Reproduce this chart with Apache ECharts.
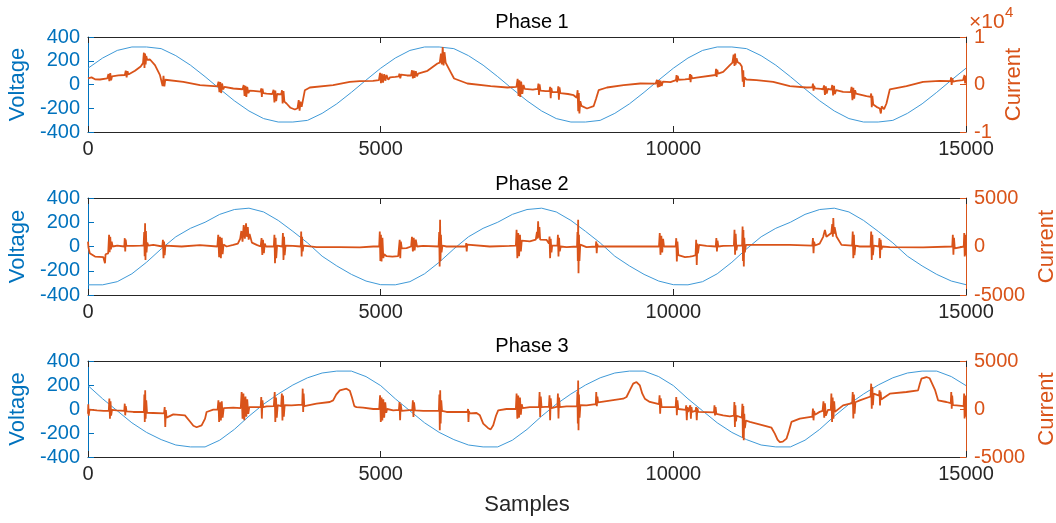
<!DOCTYPE html>
<html>
<head>
<meta charset="utf-8">
<title>Phase voltage and current</title>
<script src="https://cdn.jsdelivr.net/npm/echarts@6/dist/echarts.min.js"></script>
<style>
  html, body { margin: 0; padding: 0; background: #fff; }
  #chart { width: 1056px; height: 523px; }
</style>
</head>
<body>
<div id="chart"></div>
<script>
const BLUE = "#0072BD";
const ORANGE = "#D95319";
const DARK = "#262626";
const FONT = "'Liberation Sans', Arial, Helvetica, sans-serif";

const titles = ["Phase 1", "Phase 2", "Phase 3"];

// voltage is read every 250 samples
const voltX = [
  0, 250, 500, 750, 1000, 1250, 1500, 1750, 2000, 2250, 2500, 2750, 3000, 3250, 3500, 3750, 4000, 4250, 4500, 4750,
  5000, 5250, 5500, 5750, 6000, 6250, 6500, 6750, 7000, 7250, 7500, 7750, 8000, 8250, 8500, 8750, 9000, 9250, 9500, 9750,
  10000, 10250, 10500, 10750, 11000, 11250, 11500, 11750, 12000, 12250, 12500, 12750, 13000, 13250, 13500, 13750, 14000, 14250, 14500, 14750,
  15000,
];

const volt1 = [
  137, 223, 287, 316, 316, 302, 243, 163, 66, -37, -137, -223, -287, -316, -316, -302, -243, -163, -66, 37,
  137, 223, 287, 316, 316, 302, 243, 163, 66, -37, -137, -223, -287, -316, -316, -302, -243, -163, -66, 37,
  137, 223, 287, 316, 316, 302, 243, 163, 66, -37, -137, -223, -287, -316, -316, -302, -243, -163, -66, 37,
  137,
];

const volt2 = [
  -316, -316, -290, -225, -130, -20, 80, 150, 200, 265, 305, 316, 285, 215, 125, 30, -80, -160, -230, -285,
  -315, -316, -290, -225, -130, -20, 80, 150, 200, 265, 305, 316, 285, 215, 125, 30, -80, -160, -230, -285,
  -315, -316, -290, -225, -130, -20, 80, 150, 200, 265, 305, 316, 285, 215, 125, 30, -80, -160, -230, -285,
  -315,
];

const volt3 = [
  195, 85, -15, -115, -195, -255, -300, -316, -316, -260, -170, -60, 40, 125, 200, 260, 300, 316, 316, 270,
  195, 85, -15, -115, -195, -255, -300, -316, -316, -260, -170, -60, 40, 125, 200, 260, 300, 316, 316, 270,
  195, 85, -15, -115, -195, -255, -300, -316, -316, -260, -170, -60, 40, 125, 200, 260, 300, 316, 316, 270,
  195,
];

// current, [sample, value] pairs
const curr1 = [
  [0, 1300], [60, 1500], [120, 1100], [205, 1050],
  [330, 1300], [350, 2200], [365, 700], [380, 2400], [395, 900], [410, 1700],
  [520, 1900],
  [630, 2000], [645, 2900], [660, 1500], [675, 2800], [690, 2100],
  [803, 2900], [900, 3800],
  [940, 4500], [955, 6700], [965, 3500], [975, 6500], [985, 4200], [995, 6000], [1010, 5200],
  [1059, 5265], [1144, 4070], [1230, 1966],
  [1260, 1600], [1275, -300], [1290, 1800], [1305, -400], [1320, 1000],
  [1343, 1050], [1628, 560], [1913, -140],
  [2210, -400], [2230, 600], [2245, -1600], [2260, 500], [2275, -1800], [2290, 200], [2310, -1000], [2330, -500],
  [2482, -840],
  [2640, -1000], [2660, -100], [2675, -2400], [2690, -300], [2705, -2600], [2720, -500], [2740, -1800], [2760, -1300],
  [2824, -1330],
  [2950, -1500], [2960, -800], [2970, -2600], [2980, -900], [2995, -1800],
  [3050, -1900],
  [3150, -2000], [3170, -1100], [3185, -3800], [3200, -1300], [3215, -3500], [3230, -2000],
  [3300, -2100], [3315, -1200], [3325, -4000], [3340, -1400], [3355, -3600],
  [3392, -4000], [3460, -4900], [3534, -5260],
  [3580, -5000], [3600, -3300], [3615, -5500], [3630, -3600], [3650, -4700],
  [3705, -1200], [3790, -630], [4188, -140], [4473, 560], [4643, 700],
  [4868, 770],
  [4970, 900], [4990, 2450], [5005, 300], [5020, 2300], [5040, 400], [5060, 2200], [5080, 800], [5100, 2000], [5130, 1000], [5160, 1500],
  [5250, 1600],
  [5310, 1700], [5320, 2300], [5335, 1300], [5350, 2100], [5365, 1800],
  [5450, 1900],
  [5520, 1900], [5535, 3000], [5550, 1300], [5565, 2900], [5580, 1400], [5600, 2800], [5620, 1700], [5640, 2300],
  [5800, 2880], [5970, 4420],
  [6010, 4600], [6030, 6500], [6045, 4200], [6060, 7900], [6075, 4000], [6090, 6800], [6110, 4600],
  [6140, 4420], [6200, 2500], [6254, 1260], [6481, 210], [6879, -350], [7164, -630],
  [7320, -500], [7340, 1200], [7355, -2400], [7370, 900], [7385, -2600], [7400, 600], [7420, -2000], [7440, -100], [7460, -900],
  [7600, -1100],
  [7685, -900], [7695, 200], [7705, -2200], [7715, 0], [7730, -1300],
  [7820, -1400],
  [7885, -1400], [7895, -500], [7905, -2900], [7915, -700], [7930, -1600],
  [8025, -1600], [8035, -400], [8045, -3200], [8055, -600], [8070, -1800],
  [8200, -2000], [8297, -2250],
  [8350, -2800], [8365, -1200], [8375, -5600], [8385, -1800], [8395, -6100], [8410, -3500], [8430, -4500],
  [8525, -5050], [8638, -4560], [8680, -3000], [8724, -1200], [8866, -630], [9150, -140], [9435, 210],
  [9700, 200], [9720, 1000], [9735, -600], [9750, 900], [9765, -500], [9780, 800], [9800, -300], [9820, 600], [9840, 200],
  [9950, 500],
  [10045, 900], [10055, 2000], [10065, 500], [10075, 1800], [10090, 1000],
  [10200, 1100],
  [10275, 1200], [10285, 2200], [10295, 500], [10305, 2000], [10320, 1300],
  [10396, 1470],
  [10720, 2000], [10730, 3300], [10740, 1600], [10750, 3100], [10765, 2300],
  [10852, 2670], [10966, 4070],
  [11010, 4600], [11030, 6300], [11045, 3900], [11055, 6500], [11065, 4200], [11080, 5500], [11100, 4700],
  [11137, 4420],
  [11170, 3800], [11185, 600], [11195, 3000], [11205, -500], [11215, 1500],
  [11250, 1050], [11421, 910], [11706, 560], [11990, -350], [12275, -630],
  [12375, -600], [12385, 200], [12395, -1300], [12405, -300], [12420, -800],
  [12520, -900],
  [12560, -1000], [12575, -200], [12590, -2200], [12605, -400], [12620, -1900], [12640, -900],
  [12700, -1100], [12715, -100], [12730, -2300], [12745, -300], [12760, -2000], [12780, -1200],
  [12901, -1540],
  [13030, -1600], [13045, -500], [13060, -3300], [13075, -700], [13090, -3000], [13105, -1200], [13120, -1900],
  [13300, -2460],
  [13370, -2600], [13380, -1900], [13390, -4800], [13400, -2400], [13415, -4200],
  [13470, -4700], [13527, -5050], [13545, -6100], [13560, -4600], [13600, -5200], [13641, -4000], [13698, -1050],
  [13983, -350], [14267, 560], [14552, 770],
  [14735, 700], [14745, 1500], [14755, -100], [14765, 1300], [14780, 600],
  [14837, 770], [14950, 900],
  [14965, 800], [14975, 2000], [14985, 200], [14995, 1800], [15000, 1000],
];

const curr2 = [
  [0, 500], [8, -100], [30, -690], [120, -1035], [262, -1100], [280, -900], [290, -1725], [300, -800], [318, -860],
  [345, -700], [360, 1200], [370, -600], [380, 1000], [392, -300], [405, 500], [420, 0],
  [500, 100],
  [620, 0], [628, 860], [636, -500], [644, 700], [655, 100],
  [774, 70], [900, 80],
  [950, 100], [960, 1500], [968, -1000], [975, 2400], [982, -1380], [990, 1600], [1000, -600], [1012, 400], [1030, 100],
  [1116, 170],
  [1270, 0], [1280, 690], [1290, -1200], [1300, 500], [1310, -900], [1322, 100],
  [1343, 70], [1600, 0], [1912, 140],
  [2210, 0], [2225, 1200], [2240, -1100], [2255, 1000], [2270, -1200], [2285, 900], [2300, -800], [2315, 200],
  [2368, 0], [2482, 170],
  [2560, 300], [2600, 800], [2620, 1600], [2640, 500], [2660, 2200], [2680, 800], [2700, 2400], [2715, 1000], [2730, 2000], [2745, 700], [2760, 1300], [2800, 400], [2881, 170],
  [2950, 0], [2965, 860], [2978, -860], [2990, 700], [3005, -700], [3020, 300], [3040, 0],
  [3175, 0], [3185, 1200], [3195, -1725], [3205, 900], [3215, -1200], [3230, 100],
  [3320, 0], [3330, 1380], [3340, -1380], [3350, 1000], [3360, -900], [3375, 100],
  [3500, 70],
  [3635, 0], [3642, 1550], [3650, -1035], [3658, 1000], [3668, -500], [3680, 100],
  [3904, -70], [4300, -70], [4643, -100], [4873, 0],
  [4975, 0], [4985, 1550], [4995, -1500], [5005, 1200], [5015, -1550], [5030, 900], [5045, -1200],
  [5060, -800], [5101, -1000], [5200, -1050], [5300, -1000],
  [5315, -900], [5325, 690], [5335, -1200], [5345, 500], [5360, -200],
  [5442, -170],
  [5520, 0], [5535, 1000], [5550, -500], [5565, 900], [5580, -400], [5600, 700], [5620, 0],
  [5727, 70],
  [5990, 0], [6000, 1500], [6008, -2070], [6015, 2760], [6022, -1500], [6030, 1200], [6040, -600], [6055, 100],
  [6124, 0],
  [6455, 0], [6462, 345], [6470, -520], [6478, 200], [6490, 0],
  [6865, 0], [7200, 70],
  [7310, 100], [7322, 1725], [7335, -1200], [7350, 1400], [7365, -1000], [7380, 1200], [7395, -500], [7410, 600],
  [7548, 520],
  [7650, 700], [7670, 1500], [7680, 800], [7690, 2590], [7700, 900], [7712, 2000], [7725, 700],
  [7833, 690],
  [7875, 300], [7885, 1035], [7895, -1200], [7905, 800], [7918, -600], [7930, 100],
  [8020, 100], [8028, 1200], [8038, -1035], [8048, 900], [8060, -500], [8075, 0],
  [8175, -70],
  [8355, 0], [8362, 1500], [8368, -1500], [8374, 2760], [8380, -2760], [8388, 1200], [8396, -1500], [8410, 200],
  [8516, -70],
  [8675, 0], [8683, 520], [8691, -690], [8700, 300], [8712, 0],
  [8858, 0], [9428, 0],
  [9755, 0], [9768, 1380], [9780, -860], [9795, 1100], [9810, -600], [9825, 800], [9840, 0],
  [10040, 0], [10050, 860], [10060, -1550], [10070, 500], [10085, -900],
  [10111, -1000], [10200, -1100], [10282, -1050], [10330, -1000], [10380, -900],
  [10390, 690], [10400, -1900], [10410, 300], [10420, -700],
  [10440, 170], [10567, 70],
  [10725, 0], [10735, 860], [10745, -520], [10755, 600], [10768, 0],
  [10852, 70],
  [11035, 100], [11045, 1725], [11055, -860], [11065, 1300], [11078, -400], [11090, 100],
  [11175, 100], [11183, 2070], [11190, -1500], [11197, 1700], [11204, -2070], [11212, 900], [11222, -600], [11240, 170],
  [11421, 170], [11990, 170],
  [12375, 100], [12385, 860], [12395, -690], [12405, 500], [12420, 100],
  [12500, 300], [12560, 1000], [12590, 1700], [12615, 1000], [12645, 1200],
  [12700, 1400], [12715, 2300], [12725, 1000], [12733, 2930], [12742, 1300], [12755, 2000],
  [12787, 1035], [12873, 170],
  [13055, 100], [13065, 1550], [13075, -1200], [13085, 1200], [13095, -900], [13110, 100],
  [13185, 0],
  [13370, 0], [13380, 1550], [13390, -1380], [13400, 1200], [13410, -900], [13425, 100],
  [13512, 0], [13522, 860], [13532, -1200], [13542, 700], [13555, -300], [13570, 0],
  [13698, -70], [14267, -100],
  [14765, 0], [14775, 1200], [14785, -860], [14795, 900], [14808, -200],
  [14837, -70],
  [14962, 0], [14970, 1380], [14978, -1035], [14986, 1200], [14994, -900], [15000, 300],
];

const curr3 = [
  [0, -500], [5, 500], [12, -700], [25, -70], [153, -140], [268, -200],
  [355, -200], [365, 1080], [375, -1000], [385, 800], [395, -700], [410, -100],
  [490, -140],
  [620, -200], [628, 555], [636, -660], [645, 300], [658, -250],
  [774, -310],
  [955, -300], [963, 1500], [970, -1350], [977, 1940], [985, -1000], [995, 900], [1008, -400],
  [1116, -415],
  [1300, -450], [1310, 200], [1320, -1870], [1330, -100], [1342, -900],
  [1457, -555], [1656, -660], [1742, -1300], [1800, -1750], [1856, -1900], [1941, -1700], [2000, -1000], [2026, -310], [2140, -70],
  [2215, -50], [2228, 900], [2240, -1350], [2255, 700], [2270, -1200], [2285, 800], [2300, -900], [2318, 100],
  [2482, 140],
  [2610, 100], [2625, 1770], [2640, -1000], [2655, 1600], [2670, -1180], [2690, 1300], [2705, -800], [2720, 1000], [2738, -500], [2755, 200],
  [2824, 200],
  [2950, 200], [2960, 1250], [2970, -1000], [2980, 900], [2993, 200],
  [3050, 280],
  [3175, 300], [3190, 1770], [3200, -1350], [3212, 1200], [3225, -900], [3240, 400],
  [3300, 300], [3312, 1600], [3322, -1200], [3332, 1400], [3345, -800], [3360, 400],
  [3477, 380],
  [3660, 450], [3668, 2120], [3676, -310], [3684, 1600], [3695, 300], [3710, 500],
  [3904, 555], [4131, 730], [4188, 900], [4240, 1500], [4302, 1940], [4416, 2120], [4473, 1900], [4510, 1200], [4550, 300], [4586, 200], [4700, 150], [4873, 0],
  [4975, 0], [4990, 1420], [5002, -1350], [5015, 1200], [5028, -1200], [5045, 1000], [5060, -900], [5078, 700], [5095, -400], [5110, 0],
  [5215, -140],
  [5312, -100], [5322, 730], [5332, -1180], [5342, 500], [5358, -200],
  [5540, -100], [5550, 900], [5560, -830], [5570, 700], [5585, -150],
  [5727, -200],
  [5995, -200], [6003, 1500], [6010, -2220], [6017, 1940], [6025, -1500], [6035, 900], [6048, -200],
  [6126, -310],
  [6485, -300], [6493, 0], [6500, -1350], [6508, -200], [6520, -450],
  [6638, -415], [6695, -660], [6752, -1530], [6837, -2000], [6880, -2120], [6923, -1700], [6970, -700], [7008, -140], [7150, 0],
  [7310, 0], [7322, 1600], [7335, -1000], [7350, 1400], [7365, -900], [7380, 1200], [7395, -600], [7410, 500], [7425, 100],
  [7549, 200],
  [7705, 200], [7715, 1770], [7725, -830], [7735, 1300], [7748, 200],
  [7875, 250], [7885, 1420], [7895, -1180], [7905, 1100], [7918, 100],
  [8020, 250], [8028, 1600], [8038, -1000], [8048, 1200], [8060, 200],
  [8175, 280],
  [8355, 300], [8362, 1800], [8368, -1500], [8374, 2980], [8380, -2220], [8388, 1500], [8398, -900], [8412, 400],
  [8517, 380],
  [8675, 500], [8683, 1770], [8693, 300], [8703, 1300], [8715, 700],
  [8858, 830], [9143, 1075], [9200, 1250], [9260, 2000], [9314, 2640], [9371, 2810], [9428, 2460], [9470, 1600], [9513, 1075], [9598, 730],
  [9755, 500], [9765, 1420], [9775, -490], [9785, 1100], [9800, 200],
  [9900, 200],
  [10040, 200], [10050, 1250], [10060, -660], [10070, 900], [10085, 0],
  [10210, -100], [10220, 380], [10230, -1180], [10240, 200], [10255, -300],
  [10282, -140], [10290, 380], [10300, -1000], [10310, 200], [10320, -300],
  [10380, -200], [10390, 200], [10400, -1180], [10410, 100], [10425, -300],
  [10453, -310],
  [10695, -350], [10703, 380], [10712, -660], [10722, 200], [10735, -500],
  [10851, -660], [10965, -760],
  [11035, -700], [11043, 730], [11052, -1870], [11060, 400], [11070, -1300], [11082, -700],
  [11170, -900], [11180, 555], [11188, -3000], [11196, 300], [11203, -3260], [11212, -500], [11222, -2000], [11240, -1200],
  [11307, -1350], [11534, -1700], [11677, -1950], [11734, -2570], [11780, -3200], [11819, -3440], [11870, -3400], [11933, -3090], [11975, -2300], [12018, -1350], [12161, -1000],
  [12375, -800], [12385, 35], [12395, -1180], [12405, -200], [12420, -600],
  [12500, -300],
  [12550, -200], [12565, 800], [12578, -900], [12590, 600], [12605, -700], [12640, -100],
  [12690, -100], [12700, 1600], [12712, -1350], [12722, 1200], [12735, -1000], [12748, 800], [12760, -300],
  [12900, 380],
  [13055, 600], [13065, 1770], [13075, -1000], [13085, 1500], [13097, -500], [13110, 700],
  [13185, 900],
  [13370, 1300], [13380, 2640], [13390, 35], [13400, 2300], [13410, 400], [13422, 1600],
  [13515, 1400], [13523, 1940], [13531, 380], [13540, 1800], [13552, 1000],
  [13698, 1600], [13982, 1770], [14181, 1940], [14210, 2600], [14238, 3160], [14324, 3330], [14380, 3200], [14410, 3050], [14470, 2000], [14523, 900], [14665, 730],
  [14740, 600], [14748, 1770], [14756, 35], [14764, 1400], [14776, 400],
  [14837, 380],
  [14960, 300], [14968, 1600], [14976, -1000], [14984, 1400], [14992, -800], [15000, 200],
];

const voltages = [volt1, volt2, volt3];
const currents = [curr1, curr2, curr3];
const currentMax = [10000, 5000, 5000];

// plot boxes, in pixels
const gridTops = [37, 198, 361];
const gridHeights = [95, 97, 96];
const titleTops = [7, 169, 331];
const currentNameGaps = [36, 70, 70];

const chart = echarts.init(document.querySelector("#chart"), null, { renderer: "canvas" });

const grids = [];
const xAxes = [];
const yAxes = [];
const series = [];
const titleList = [];

gridTops.forEach((top, i) => {
  grids.push({
    left: 88,
    width: 878,
    top,
    height: gridHeights[i],
    containLabel: false,
    outerBoundsMode: "none",
  });

  titleList.push({
    text: titles[i],
    left: 527,
    top: titleTops[i],
    textAlign: "center",
    textStyle: { fontFamily: FONT, fontSize: 20, fontWeight: "normal", color: "#000" },
  });

  xAxes.push({
    type: "value",
    gridIndex: i,
    position: "bottom",
    min: 0,
    max: 15000,
    interval: 5000,
    name: i === 2 ? "Samples" : "",
    nameLocation: "middle",
    nameGap: 37,
    nameTextStyle: { fontFamily: FONT, fontSize: 22, color: DARK },
    axisLine: { onZero: false, lineStyle: { color: DARK, width: 1 } },
    axisTick: { inside: true, length: 6, lineStyle: { color: DARK } },
    axisLabel: { fontFamily: FONT, fontSize: 20, color: DARK, margin: 7, formatter: (v) => String(v) },
    splitLine: { show: false },
  });
  // top edge of the box
  xAxes.push({
    type: "value",
    gridIndex: i,
    position: "top",
    min: 0,
    max: 15000,
    interval: 5000,
    axisLine: { onZero: false, lineStyle: { color: DARK, width: 1 } },
    axisTick: { inside: true, length: 6, lineStyle: { color: DARK } },
    axisLabel: { show: false },
    splitLine: { show: false },
  });

  yAxes.push({
    type: "value",
    gridIndex: i,
    position: "left",
    min: -400,
    max: 400,
    interval: 200,
    name: "Voltage",
    nameLocation: "middle",
    nameRotate: 90,
    nameGap: 46,
    nameTextStyle: { fontFamily: FONT, fontSize: 22, color: BLUE },
    axisLine: { show: true, onZero: false, lineStyle: { color: BLUE, width: 1 } },
    axisTick: { show: true, inside: true, length: 6, lineStyle: { color: BLUE } },
    axisLabel: { fontFamily: FONT, fontSize: 20, color: BLUE, margin: 8 },
    splitLine: { show: false },
  });
  yAxes.push({
    type: "value",
    gridIndex: i,
    position: "right",
    min: -currentMax[i],
    max: currentMax[i],
    interval: currentMax[i],
    name: "Current",
    nameLocation: "middle",
    nameRotate: 90,
    nameGap: currentNameGaps[i],
    nameTextStyle: { fontFamily: FONT, fontSize: 22, color: ORANGE },
    axisLine: { show: true, onZero: false, lineStyle: { color: ORANGE, width: 1 } },
    axisTick: { show: true, inside: true, length: 6, lineStyle: { color: ORANGE } },
    axisLabel: {
      fontFamily: FONT,
      fontSize: 20,
      color: ORANGE,
      margin: 8,
      formatter: (v) => (i === 0 ? String(v / 10000) : String(v)),
    },
    splitLine: { show: false },
  });

  series.push({
    type: "line",
    xAxisIndex: i * 2,
    yAxisIndex: i * 2,
    data: voltX.map((x, k) => [x, voltages[i][k]]),
    showSymbol: false,
    lineStyle: { color: "#3f9ad8", width: 1 },
    z: 2,
  });
  series.push({
    type: "line",
    xAxisIndex: i * 2,
    yAxisIndex: i * 2 + 1,
    data: currents[i],
    showSymbol: false,
    lineStyle: { color: ORANGE, width: 1.8 },
    z: 3,
  });
});

chart.setOption({
  animation: false,
  backgroundColor: "#fff",
  title: titleList,
  grid: grids,
  xAxis: xAxes,
  yAxis: yAxes,
  series,
  graphic: [
    {
      type: "text",
      left: 969,
      top: 12,
      style: { text: "×10", fontFamily: FONT, fontSize: 21, fill: ORANGE },
    },
    {
      type: "text",
      left: 1005,
      top: 5,
      style: { text: "4", fontFamily: FONT, fontSize: 15, fill: ORANGE },
    },
  ],
});
</script>
</body>
</html>
